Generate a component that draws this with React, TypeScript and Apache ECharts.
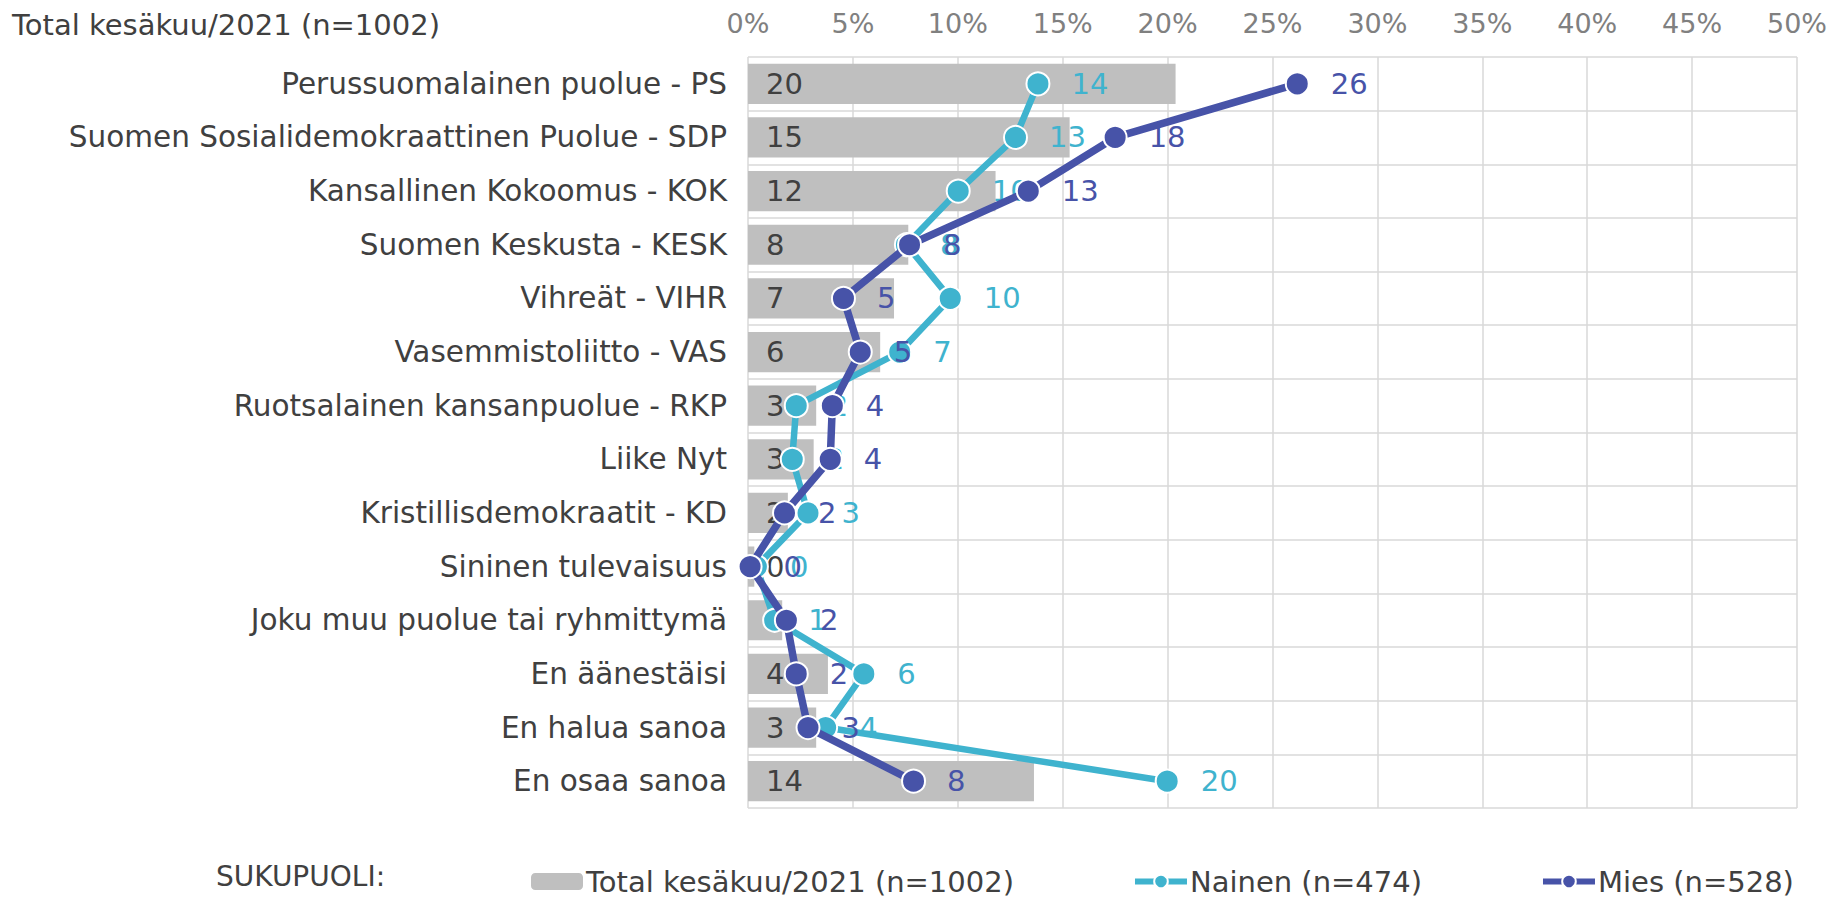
import React, { useEffect, useRef } from "react";
import * as echarts from "echarts";

const categories = [
  "Perussuomalainen puolue - PS",
  "Suomen Sosialidemokraattinen Puolue - SDP",
  "Kansallinen Kokoomus - KOK",
  "Suomen Keskusta - KESK",
  "Vihreät - VIHR",
  "Vasemmistoliitto - VAS",
  "Ruotsalainen kansanpuolue - RKP",
  "Liike Nyt",
  "Kristillisdemokraatit - KD",
  "Sininen tulevaisuus",
  "Joku muu puolue tai ryhmittymä",
  "En äänestäisi",
  "En halua sanoa",
  "En osaa sanoa",
];

const totalValues = [20.38, 15.33, 11.8, 7.64, 6.96, 6.3, 3.25, 3.13, 1.9, 0.3, 1.63, 3.81, 3.25, 13.63];
const naisetValues = [13.82, 12.75, 10.02, 7.55, 9.64, 7.23, 2.3, 2.11, 2.86, 0.4, 1.27, 5.52, 3.7, 19.98];
const miehetValues = [26.18, 17.5, 13.36, 7.7, 4.55, 5.35, 4.02, 3.92, 1.74, 0.1, 1.83, 2.3, 2.86, 7.89];

const seriesNames = ["Total kesäkuu/2021 (n=1002)", "Nainen (n=474)", "Mies (n=528)"];
const titleText = "Total kesäkuu/2021 (n=1002)";
const legendTitle = "SUKUPUOLI:";

const FONT = "DejaVu Sans";
const GRAY_BAR = "#BFBFBF";
const CYAN = "#3FB3CE";
const NAVY = "#4753A8";
const TEXT = "#404040";

export default function App() {
  const ref = useRef<HTMLDivElement>(null);
  useEffect(() => {
    if (!ref.current) return;
    const chart = echarts.init(ref.current, null, { renderer: "svg" });
    const round = (p: any) => String(Math.round(p.value));
    chart.setOption({
      animation: false,
      backgroundColor: "#ffffff",
      textStyle: { fontFamily: FONT },
      grid: { left: 748, right: 37, top: 57, bottom: 89, containLabel: false },
      xAxis: {
        type: "value",
        position: "top",
        min: 0,
        max: 50,
        interval: 5,
        axisLine: { show: false },
        axisTick: { show: false },
        axisLabel: {
          formatter: "{value}%",
          color: "#808080",
          fontSize: 27,
          fontFamily: FONT,
          margin: 20,
        },
        splitLine: { show: true, lineStyle: { color: "#D9D9D9", width: 1.5 } },
      },
      yAxis: {
        type: "category",
        inverse: true,
        data: categories,
        axisLine: { show: false },
        axisTick: { show: false },
        axisLabel: { color: TEXT, fontSize: 29.5, fontFamily: FONT, margin: 21 },
        splitLine: { show: true, lineStyle: { color: "#D9D9D9", width: 1.5 } },
      },
      legend: {
        data: seriesNames,
        left: 526,
        top: 862,
        itemWidth: 52,
        itemHeight: 17,
        itemGap: 118,
        lineStyle: { width: 6 },
        textStyle: { color: TEXT, fontSize: 29, fontFamily: FONT, padding: [0, 0, 0, -2] },
      },
      graphic: [
        {
          type: "text",
          left: 12,
          top: 10,
          style: { text: titleText, fill: TEXT, font: `29px "${FONT}"` },
        },
        {
          type: "text",
          left: 216,
          top: 862,
          style: { text: legendTitle, fill: TEXT, font: `28px "${FONT}"` },
        },
      ],
      series: [
        {
          name: seriesNames[0],
          type: "bar",
          data: totalValues,
          barCategoryGap: "25%",
          itemStyle: { color: GRAY_BAR },
          label: {
            show: true,
            position: "insideLeft",
            distance: 18,
            formatter: round,
            color: TEXT,
            fontSize: 29,
            fontFamily: FONT,
          },
          z: 2,
        },
        {
          name: seriesNames[1],
          type: "line",
          data: naisetValues,
          symbol: "circle",
          symbolSize: 23,
          lineStyle: { color: CYAN, width: 6.5 },
          itemStyle: { color: CYAN, borderColor: "#ffffff", borderWidth: 2 },
          label: {
            show: true,
            position: "right",
            distance: 21,
            formatter: round,
            color: CYAN,
            fontSize: 29,
            fontFamily: FONT,
          },
          z: 3,
        },
        {
          name: seriesNames[2],
          type: "line",
          data: miehetValues,
          symbol: "circle",
          symbolSize: 23,
          lineStyle: { color: NAVY, width: 7.5 },
          itemStyle: { color: NAVY, borderColor: "#ffffff", borderWidth: 2 },
          label: {
            show: true,
            position: "right",
            distance: 21,
            formatter: round,
            color: NAVY,
            fontSize: 29,
            fontFamily: FONT,
          },
          z: 4,
        },
      ],
    });
    return () => chart.dispose();
  }, []);
  return (
    <div
      ref={ref}
      style={{ position: "fixed", left: 0, top: 0, width: 1834, height: 897, background: "#fff" }}
    />
  );
}
